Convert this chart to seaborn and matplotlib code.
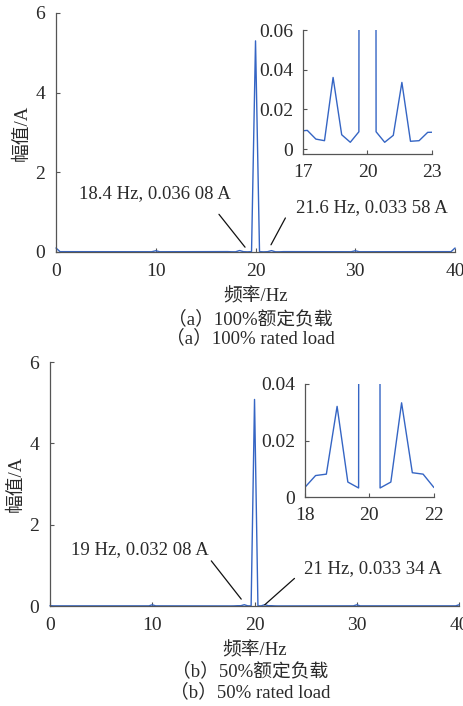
import matplotlib
matplotlib.use("Agg")
import matplotlib.pyplot as plt
import seaborn as sns
import pandas as pd

# ---------------- data ----------------
freq_a = [0.0, 0.4, 9.6, 10.0, 10.4, 16.8, 17.2, 17.6, 18.0, 18.4, 18.8, 19.2, 19.6,
          20.0, 20.4, 20.8, 21.2, 21.6, 22.0, 22.4, 22.8, 23.2, 29.6, 30.0, 30.4, 39.6, 40.0]
amp_a = [0.10, 0.008, 0.006, 0.03, 0.006, 0.009, 0.0094, 0.005, 0.0042, 0.03608, 0.0072, 0.0034, 0.0087,
         5.30, 0.0087, 0.0034, 0.0069, 0.03358, 0.0039, 0.0042, 0.0084, 0.0085, 0.006, 0.03, 0.006, 0.008, 0.10]

freq_b = [0.0, 0.333, 9.667, 10.0, 10.333, 17.667, 18.0, 18.333, 18.667, 19.0, 19.333, 19.667,
          20.0, 20.333, 20.667, 21.0, 21.333, 21.667, 22.0, 22.333, 29.667, 30.0, 30.333, 39.667, 40.0]
amp_b = [0.01, 0.004, 0.004, 0.03, 0.004, 0.002, 0.0034, 0.0076, 0.0081, 0.03208, 0.0053, 0.0032,
         5.08, 0.0032, 0.0053, 0.03334, 0.0086, 0.0081, 0.0034, 0.002, 0.004, 0.03, 0.004, 0.004, 0.03]

main_xticks = [0, 10, 20, 30, 40]
main_yticks = [0, 2, 4, 6]
inset_a_xticks = [17, 20, 23]
inset_a_yticks = [0, 0.02, 0.04, 0.06]
inset_a_ylabels = ["0", "0.02", "0.04", "0.06"]
inset_b_xticks = [18, 20, 22]
inset_b_yticks = [0, 0.02, 0.04]
inset_b_ylabels = ["0", "0.02", "0.04"]

ann_a = [("18.4 Hz, 0.036 08 A", 18.4), ("21.6 Hz, 0.033 58 A", 21.6)]
ann_b = [("19 Hz, 0.032 08 A", 19.0), ("21 Hz, 0.033 34 A", 21.0)]

xlabel = "频率/Hz"
ylabel = "幅值/A"
caption_a = ["（a）100%额定负载", "（a）100% rated load"]
caption_b = ["（b）50%额定负载", "（b）50% rated load"]

# ---------------- style ----------------
sns.set_style("ticks")
FAM = ["Liberation Serif", "Noto Sans CJK SC"]
plt.rcParams["font.family"] = FAM
plt.rcParams["axes.unicode_minus"] = False
TXT = "#2a2a2a"
SPINE = "#555555"
LINE = "#3565c4"

fig = plt.figure(figsize=(4.64, 7.06), dpi=100)

df_a = pd.DataFrame({"f": freq_a, "a": amp_a})
df_b = pd.DataFrame({"f": freq_b, "a": amp_b})


def style_axes(ax, fs, pad):
    for s in ["top", "right"]:
        ax.spines[s].set_visible(False)
    for s in ["left", "bottom"]:
        ax.spines[s].set_color(SPINE)
        ax.spines[s].set_linewidth(0.9)
    ax.tick_params(direction="in", length=3, width=0.8, colors=SPINE,
                   labelcolor=TXT, labelsize=fs, pad=pad)
    ax.set_xlabel("")
    ax.set_ylabel("")


def main_panel(rect, df, anns, texts_pos, tips, relposes, shrinks):
    ax = fig.add_axes(rect)
    sns.lineplot(data=df, x="f", y="a", ax=ax, color=LINE, lw=1.0, clip_on=False)
    ax.set_xlim(0, 40)
    ax.set_ylim(0, 6)
    ax.set_xticks(main_xticks)
    ax.set_yticks(main_yticks)
    style_axes(ax, 14, 8)
    ax.set_ylabel(ylabel, fontsize=13.5, color=TXT, labelpad=3)
    ax.set_xlabel(xlabel, fontsize=13.5, color=TXT, labelpad=6)
    for (txt, f), tp, tip, rp, sh in zip(anns, texts_pos, tips, relposes, shrinks):
        ax.annotate(txt, xy=tip, xytext=tp, textcoords="data", fontsize=13.5,
                    color=TXT, va="center", ha="left",
                    arrowprops=dict(arrowstyle="-", color="#111111", lw=0.9,
                                    relpos=rp, shrinkA=sh, shrinkB=0))
    return ax


def inset_panel(rect, df, xlim, ylim, xt, yt, ylab):
    ax = fig.add_axes(rect)
    sns.lineplot(data=df, x="f", y="a", ax=ax, color=LINE, lw=1.0)
    ax.set_xlim(*xlim)
    ax.set_ylim(*ylim)
    ax.set_xticks(xt)
    ax.set_yticks(yt)
    ax.set_yticklabels(ylab)
    style_axes(ax, 14, 7)
    ax.patch.set_alpha(0)
    return ax


# panel (a)
axa = main_panel([0.1207, 0.6431, 0.860, 0.3385], df_a, ann_a,
                 texts_pos=[(2.3, 1.46), (24.06, 1.11)],
                 tips=[(18.95, 0.12), (21.55, 0.18)],
                 relposes=[(0.86, 0.0), (-0.07, -0.1)],
                 shrinks=[8, 0])
inset_panel([0.653, 0.7819, 0.278, 0.1756], df_a, (17, 23), (-0.0025, 0.06),
            inset_a_xticks, inset_a_yticks, inset_a_ylabels)

# panel (b)
axb = main_panel([0.1078, 0.1416, 0.8815, 0.3456], df_b, ann_b,
                 texts_pos=[(2.05, 1.40), (24.85, 0.93)],
                 tips=[(18.7, 0.17), (21.0, 0.03)],
                 relposes=[(1.0, 0.0), (-0.07, -0.1)],
                 shrinks=[0, 0])
inset_panel([0.657, 0.2960, 0.278, 0.1601], df_b, (18, 22), (0, 0.04),
            inset_b_xticks, inset_b_yticks, inset_b_ylabels)

# captions
fig.text(0.539, 1 - 319 / 706, caption_a[0], ha="center", va="center", fontsize=13.5, color=TXT)
fig.text(0.539, 1 - 338 / 706, caption_a[1], ha="center", va="center", fontsize=13.5, color=TXT)
fig.text(0.539, 1 - 671 / 706, caption_b[0], ha="center", va="center", fontsize=13.5, color=TXT)
fig.text(0.539, 1 - 692 / 706, caption_b[1], ha="center", va="center", fontsize=13.5, color=TXT)

fig.savefig("out.png", dpi=100)
